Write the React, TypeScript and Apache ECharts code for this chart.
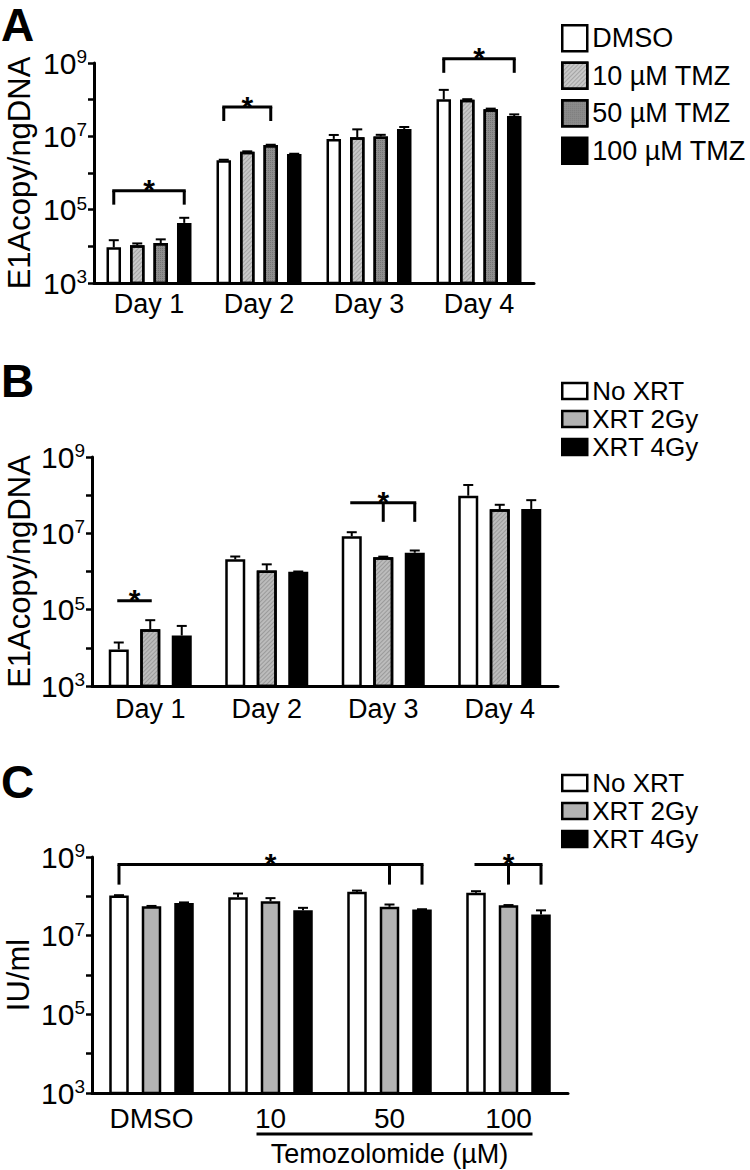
import React, { useEffect, useRef } from "react";
import * as echarts from "echarts";

// ---------------- DATA ----------------
const DAYS = ["Day 1", "Day 2", "Day 3", "Day 4"];
const TMZ_NAMES = ["DMSO", "10 µM TMZ", "50 µM TMZ", "100 µM TMZ"];
const XRT_NAMES = ["No XRT", "XRT 2Gy", "XRT 4Gy"];
const C_CATS = ["DMSO", "10", "50", "100"];

// Panel A (mean, upper error)
const A_DMSO = [9400, 2.24e6, 8.5e6, 1.02e8];
const A_DMSO_ERR = [14700, 2.3e6, 1.09e7, 1.85e8];
const A_TMZ10 = [10700, 3.8e6, 9.4e6, 1.0e8];
const A_TMZ10_ERR = [12000, 3.9e6, 1.55e7, 1.03e8];
const A_TMZ50 = [12300, 5.8e6, 9.9e6, 5.5e7];
const A_TMZ50_ERR = [15500, 5.9e6, 1.1e7, 5.7e7];
const A_TMZ100 = [43600, 3.3e6, 1.59e7, 3.56e7];
const A_TMZ100_ERR = [60000, 3.35e6, 1.8e7, 3.97e7];

// Panel B
const B_NOXRT = [9100, 2.08e6, 8.4e6, 9.7e7];
const B_NOXRT_ERR = [13800, 2.47e6, 1.07e7, 1.85e8];
const B_XRT2 = [30900, 1.07e6, 2.38e6, 4.26e7];
const B_XRT2_ERR = [53000, 1.54e6, 2.45e6, 5.6e7];
const B_XRT4 = [21000, 9.8e5, 3.1e6, 4.35e7];
const B_XRT4_ERR = [37500, 1.0e6, 3.55e6, 7.4e7];

// Panel C
const C_NOXRT = [1.05e8, 9.5e7, 1.3e8, 1.23e8];
const C_NOXRT_ERR = [1.07e8, 1.18e8, 1.4e8, 1.35e8];
const C_XRT2 = [5.6e7, 7.5e7, 5.4e7, 5.9e7];
const C_XRT2_ERR = [5.7e7, 9.0e7, 6.2e7, 6.0e7];
const C_XRT4 = [6.8e7, 4.4e7, 4.6e7, 3.45e7];
const C_XRT4_ERR = [7.0e7, 5.1e7, 4.7e7, 4.4e7];

// Significance brackets: [category, bar index]
const A_BRACKETS = [
  { from: [0, 0], to: [0, 3], level: 3.3e5, legs: [[0, 0], [0, 3]], star: [0, 1.5] },
  { from: [1, 0], to: [1, 2], level: 6.3e7, legs: [[1, 0], [1, 2]], star: [1, 1] },
  { from: [3, 0], to: [3, 3], level: 1.3e9, legs: [[3, 0], [3, 3]], star: [3, 1.5] },
];
const B_BRACKETS = [
  { from: [0, 0], to: [0, 1], level: 1.7e5, legs: [], star: [0, 0.5] },
  { from: [2, 0], to: [2, 2], level: 6.3e7, legs: [[2, 1], [2, 2]], star: [2, 1] },
];
const C_BRACKETS = [
  { from: [0, 0], to: [2, 2], level: 6.4e8, legs: [[0, 0], [2, 1], [2, 2]], star: [1, 1] },
  { from: [3, 0], to: [3, 2], level: 6.4e8, legs: [[3, 1], [3, 2]], star: [3, 1] },
];

const Y_MIN = 1e3;
const Y_MAX = 1e9;

// ---------------- STYLE / LAYOUT ----------------
const FONT = "'Liberation Sans', Arial, Helvetica, sans-serif";
const GRIDS = [
  { left: 94, top: 63, width: 440, height: 220 },
  { left: 92, top: 457, width: 466, height: 229 },
  { left: 92, top: 857, width: 476, height: 236 },
];
const BAR = [
  { w: 14.5, gap: 0.62, n: 4, leg: 14 },
  { w: 20, gap: 0.575, n: 3, leg: 19 },
  { w: 19.5, gap: 0.667, n: 3, leg: 20 },
];

const hatchLight = {
  symbol: "rect",
  symbolSize: 1,
  dashArrayX: [[1, 0]],
  dashArrayY: [1, 2],
  rotation: -Math.PI / 4,
  color: "rgba(0,0,0,0.18)",
};
const hatchDark = {
  symbol: "rect",
  symbolSize: 1,
  dashArrayX: [1, 1],
  dashArrayY: [1, 1],
  rotation: 0,
  color: "rgba(0,0,0,0.18)",
};

const offsetOf = (bi: number, p: { w: number; gap: number; n: number }) =>
  (bi - (p.n - 1) / 2) * p.w * (1 + p.gap);

function App() {
  const ref = useRef<HTMLDivElement>(null);
  useEffect(() => {
    if (!ref.current) return;
    const chart = echarts.init(ref.current, null, { renderer: "svg" });

    const panels = [
      {
        cats: DAYS,
        names: TMZ_NAMES,
        means: [A_DMSO, A_TMZ10, A_TMZ50, A_TMZ100],
        errs: [A_DMSO_ERR, A_TMZ10_ERR, A_TMZ50_ERR, A_TMZ100_ERR],
        styles: [
          { color: "#ffffff" },
          { color: "#c8c8c8", decal: hatchLight },
          { color: "#8e8e8e", decal: hatchDark },
          { color: "#000000" },
        ],
        brackets: A_BRACKETS,
        yName: "E1Acopy/ngDNA",
        nameGap: 59,
        labelSize: 27,
        labelMargin: 7,
      },
      {
        cats: DAYS,
        names: XRT_NAMES,
        means: [B_NOXRT, B_XRT2, B_XRT4],
        errs: [B_NOXRT_ERR, B_XRT2_ERR, B_XRT4_ERR],
        styles: [
          { color: "#ffffff" },
          { color: "#bcbcbc", decal: hatchLight },
          { color: "#000000" },
        ],
        brackets: B_BRACKETS,
        yName: "E1Acopy/ngDNA",
        nameGap: 57,
        labelSize: 27,
        labelMargin: 9,
      },
      {
        cats: C_CATS,
        names: XRT_NAMES,
        means: [C_NOXRT, C_XRT2, C_XRT4],
        errs: [C_NOXRT_ERR, C_XRT2_ERR, C_XRT4_ERR],
        styles: [{ color: "#ffffff" }, { color: "#b3b3b3" }, { color: "#000000" }],
        brackets: C_BRACKETS,
        yName: "IU/ml",
        nameGap: 58,
        labelSize: 28,
        labelMargin: 11,
      },
    ];

    const grid: any[] = [];
    const xAxis: any[] = [];
    const yAxis: any[] = [];
    const series: any[] = [];

    panels.forEach((p, pi) => {
      const bp = BAR[pi];
      grid.push({ ...GRIDS[pi], containLabel: false, outerBoundsMode: "none" });
      xAxis.push({
        type: "category",
        gridIndex: pi,
        data: p.cats,
        axisLine: { lineStyle: { color: "#000", width: 3 } },
        axisTick: { alignWithLabel: true, length: 5, lineStyle: { color: "#000", width: 2.5 } },
        axisLabel: {
          color: "#000",
          fontSize: p.labelSize,
          fontFamily: FONT,
          margin: p.labelMargin,
          interval: 0,
        },
        splitLine: { show: false },
      });
      yAxis.push({
        type: "log",
        logBase: 10,
        gridIndex: pi,
        min: Y_MIN,
        max: Y_MAX,
        interval: 1,
        name: p.yName,
        nameLocation: "middle",
        nameRotate: 90,
        nameGap: p.nameGap,
        nameMoveOverlap: false,
        nameTextStyle: { color: "#000", fontSize: 31, fontFamily: FONT },
        axisLine: { show: true, lineStyle: { color: "#000", width: 3 } },
        axisTick: { show: true, length: 6, lineStyle: { color: "#000", width: 2.5 } },
        axisLabel: {
          margin: 7,
          color: "#000",
          fontSize: 30,
          fontFamily: FONT,
          formatter: (v: number) => {
            const e = Math.round(Math.log10(v));
            return e % 2 === 1 ? `{base|10}{sup|${e}}` : "";
          },
          rich: {
            base: { fontSize: 30, lineHeight: 32, color: "#000", fontFamily: FONT },
            sup: {
              fontSize: 19,
              lineHeight: 22,
              verticalAlign: "top",
              color: "#000",
              fontFamily: FONT,
            },
          },
        },
        splitLine: { show: false },
      });

      p.names.forEach((name, si) => {
        series.push({
          type: "bar",
          name,
          xAxisIndex: pi,
          yAxisIndex: pi,
          data: p.means[si],
          barWidth: bp.w,
          barGap: `${bp.gap * 100}%`,
          itemStyle: { ...p.styles[si], borderColor: "#000", borderWidth: 2.5 },
          emphasis: { disabled: true },
          z: 2,
        });
      });

      // error bars
      const errData: number[][] = [];
      p.means.forEach((arr, si) =>
        arr.forEach((v, ci) => errData.push([ci, si, v, p.errs[si][ci]]))
      );
      series.push({
        type: "custom",
        xAxisIndex: pi,
        yAxisIndex: pi,
        data: errData,
        encode: { x: 0, y: 2 },
        z: 3,
        silent: true,
        renderItem: (params: any, api: any) => {
          const cat = api.value(0);
          const bi = api.value(1);
          const p0 = api.coord([cat, api.value(2)]);
          const p1 = api.coord([cat, api.value(3)]);
          const x = p0[0] + offsetOf(bi, bp);
          const st = { stroke: "#000", lineWidth: 2 };
          return {
            type: "group",
            children: [
              { type: "line", shape: { x1: x, y1: p0[1], x2: x, y2: p1[1] }, style: st },
              { type: "line", shape: { x1: x - 5, y1: p1[1], x2: x + 5, y2: p1[1] }, style: st },
            ],
          };
        },
      });

      // significance brackets
      series.push({
        type: "custom",
        xAxisIndex: pi,
        yAxisIndex: pi,
        data: p.brackets.map((b) => [b.from[0], b.level]),
        encode: { x: 0, y: 1 },
        z: 4,
        silent: true,
        clip: false,
        renderItem: (params: any, api: any) => {
          const b = p.brackets[params.dataIndex];
          const px = (c: number, bi: number) => api.coord([c, b.level])[0] + offsetOf(bi, bp);
          const y = api.coord([b.from[0], b.level])[1];
          const st = { stroke: "#000", lineWidth: 3 };
          const children: any[] = [
            {
              type: "line",
              shape: { x1: px(b.from[0], b.from[1]) - 1.5, y1: y, x2: px(b.to[0], b.to[1]) + 1.5, y2: y },
              style: st,
            },
          ];
          b.legs.forEach((l) => {
            const lx = px(l[0], l[1]);
            children.push({
              type: "line",
              shape: { x1: lx, y1: y, x2: lx, y2: y + bp.leg },
              style: st,
            });
          });
          children.push({
            type: "text",
            x: px(b.star[0], b.star[1]),
            y: y - 1,
            style: {
              text: "*",
              fontSize: 30,
              fontWeight: "bold",
              fontFamily: FONT,
              fill: "#000",
              align: "center",
              verticalAlign: "middle",
            },
          });
          return { type: "group", children };
        },
      });
    });

    const legendBase = {
      orient: "vertical",
      left: 556,
      icon: "rect",
      selectedMode: false,
      textStyle: { color: "#000", fontFamily: FONT },
      itemStyle: { borderColor: "#000", borderWidth: 2.5 },
    };

    // C panel axis caption (derived from grid layout)
    const gC = GRIDS[2];
    const catW = gC.width / C_CATS.length;
    const c10 = gC.left + catW * 1.5;
    const c50 = gC.left + catW * 2.5;
    const c100 = gC.left + catW * 3.5;

    const letter = (t: string, y: number) => ({
      type: "text",
      x: 1,
      y,
      style: { text: t, fontSize: 46, lineHeight: 46, fontWeight: "bold", fontFamily: FONT, fill: "#000" },
    });

    chart.setOption({
      animation: false,
      textStyle: { fontFamily: FONT },
      grid,
      xAxis,
      yAxis,
      series,
      legend: [
        {
          ...legendBase,
          top: 19,
          itemWidth: 25,
          itemHeight: 26,
          itemGap: 9,
          textStyle: { ...legendBase.textStyle, fontSize: 27, lineHeight: 26 },
          data: TMZ_NAMES,
        },
        {
          ...legendBase,
          top: 373,
          itemWidth: 25,
          itemHeight: 16,
          itemGap: 2,
          textStyle: { ...legendBase.textStyle, fontSize: 26, lineHeight: 22 },
          data: XRT_NAMES.map((n, i) =>
            i === 1 ? { name: n, itemStyle: { color: "#b3b3b3", decal: "none" } } : n
          ),
        },
        {
          ...legendBase,
          top: 765,
          itemWidth: 25,
          itemHeight: 16,
          itemGap: 2,
          textStyle: { ...legendBase.textStyle, fontSize: 26, lineHeight: 22 },
          data: XRT_NAMES.map((n, i) =>
            i === 1 ? { name: n, itemStyle: { color: "#b3b3b3", decal: "none" } } : n
          ),
        },
      ],
      graphic: [
        letter("A", 2),
        letter("B", 358),
        letter("C", 759),
        {
          type: "line",
          shape: { x1: c10 - 14, y1: 1134, x2: c100 + 24, y2: 1134 },
          style: { stroke: "#000", lineWidth: 3 },
        },
        {
          type: "text",
          x: c50,
          y: 1154,
          style: {
            text: "Temozolomide (µM)",
            fontSize: 27,
            lineHeight: 28,
            fontFamily: FONT,
            fill: "#000",
            align: "center",
            verticalAlign: "middle",
          },
        },
      ],
    });

    return () => chart.dispose();
  }, []);

  return (
    <div
      ref={ref}
      style={{ position: "absolute", left: 0, top: 0, width: 750, height: 1170, background: "#fff" }}
    />
  );
}

export default App;
